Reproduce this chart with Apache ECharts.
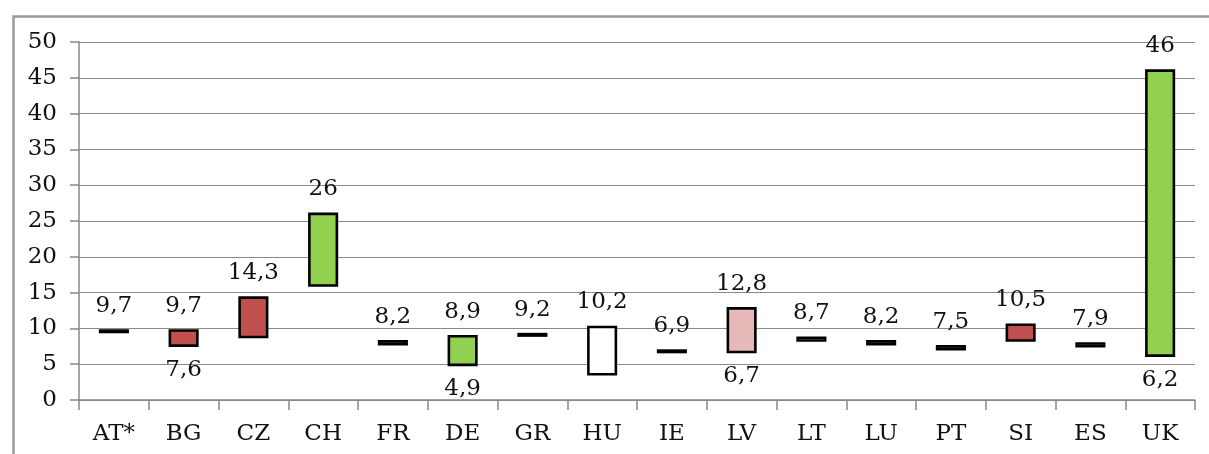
<!DOCTYPE html>
<html>
<head>
<meta charset="utf-8">
<script src="https://cdn.jsdelivr.net/npm/echarts@6/dist/echarts.min.js"></script>
<style>
html,body{margin:0;padding:0;background:#fff;}
#chart{width:1209px;height:454px;}
</style>
</head>
<body>
<div id="chart"></div>
<script>
// ---- data ----
const categories = ['AT*','BG','CZ','CH','FR','DE','GR','HU','IE','LV','LT','LU','PT','SI','ES','UK'];
const lowValues  = [9.5, 7.6, 8.8, 16, 7.8, 4.9, 9.0, 3.6, 6.7, 6.7, 8.3, 7.8, 7.1, 8.3, 7.5, 6.2];
const highValues = [9.7, 9.7, 14.3, 26, 8.2, 8.9, 9.2, 10.2, 6.9, 12.8, 8.7, 8.2, 7.5, 10.5, 7.9, 46];
// which categories show their low value as a label
const showLowLabel = ['BG','DE','LV','UK'];
const yTicks = {min: 0, max: 50, interval: 5};

// ---- styles ----
const RED = '#C0504D', GREEN = '#92D050', PINK = '#E6B8B7', WHITE = '#FFFFFF', BLACK = '#000000';
const fillColors = [BLACK, RED, RED, GREEN, RED, GREEN, BLACK, WHITE, BLACK, PINK, PINK, RED, RED, RED, RED, GREEN];

const fmt = v => String(v).replace('.', ',');
const FONT = 'DejaVu Serif';
const TXT = '#111111';
const FS = 23;
const BAR_W = 27.5, BORDER = 2.6;

const seriesData = categories.map((c, i) => [i, lowValues[i], highValues[i]]);

function renderItem(params, api) {
  const i = api.value(0);
  const lo = api.coord([i, api.value(1)]);
  const hi = api.coord([i, api.value(2)]);
  const cx = lo[0];
  const children = [{
    type: 'rect',
    shape: {x: cx - BAR_W / 2, y: hi[1], width: BAR_W, height: lo[1] - hi[1]},
    style: {fill: fillColors[i], stroke: BLACK, lineWidth: BORDER}
  }, {
    type: 'text',
    style: {
      text: fmt(highValues[i]), x: cx, y: hi[1] - 13,
      align: 'center', verticalAlign: 'bottom',
      fill: TXT, font: FS + 'px "' + FONT + '"'
    }
  }];
  if (showLowLabel.includes(categories[i])) {
    children.push({
      type: 'text',
      style: {
        text: fmt(lowValues[i]), x: cx, y: lo[1] + 13,
        align: 'center', verticalAlign: 'top',
        fill: TXT, font: FS + 'px "' + FONT + '"'
      }
    });
  }
  return {type: 'group', children};
}

const chart = echarts.init(document.getElementById('chart'));
chart.setOption({
  animation: false,
  backgroundColor: '#fff',
  graphic: [{
    type: 'rect', left: 11, top: 14, silent: true,
    shape: {x: 0, y: 0, width: 1260, height: 520},
    style: {fill: 'none', stroke: '#9a9a9a', lineWidth: 2.5}
  }],
  grid: {left: 79, right: 14, top: 42, bottom: 54, containLabel: false},
  xAxis: {
    type: 'category',
    data: categories,
    boundaryGap: true,
    axisLine: {lineStyle: {color: '#888', width: 1.5}},
    axisTick: {show: true, length: 10, lineStyle: {color: '#888', width: 1.5}},
    axisLabel: {color: TXT, fontFamily: FONT, fontSize: FS, margin: 23, interval: 0}
  },
  yAxis: {
    type: 'value',
    min: yTicks.min, max: yTicks.max, interval: yTicks.interval,
    axisLine: {show: true, lineStyle: {color: '#888', width: 1.5}},
    axisTick: {show: true, length: 9, lineStyle: {color: '#888', width: 1.5}},
    splitLine: {show: true, lineStyle: {color: '#8a8a8a', width: 1.2}},
    axisLabel: {color: TXT, fontFamily: FONT, fontSize: FS, margin: 22}
  },
  series: [{
    type: 'custom',
    renderItem: renderItem,
    encode: {x: 0, y: [1, 2]},
    data: seriesData,
    clip: false
  }]
});
</script>
</body>
</html>
